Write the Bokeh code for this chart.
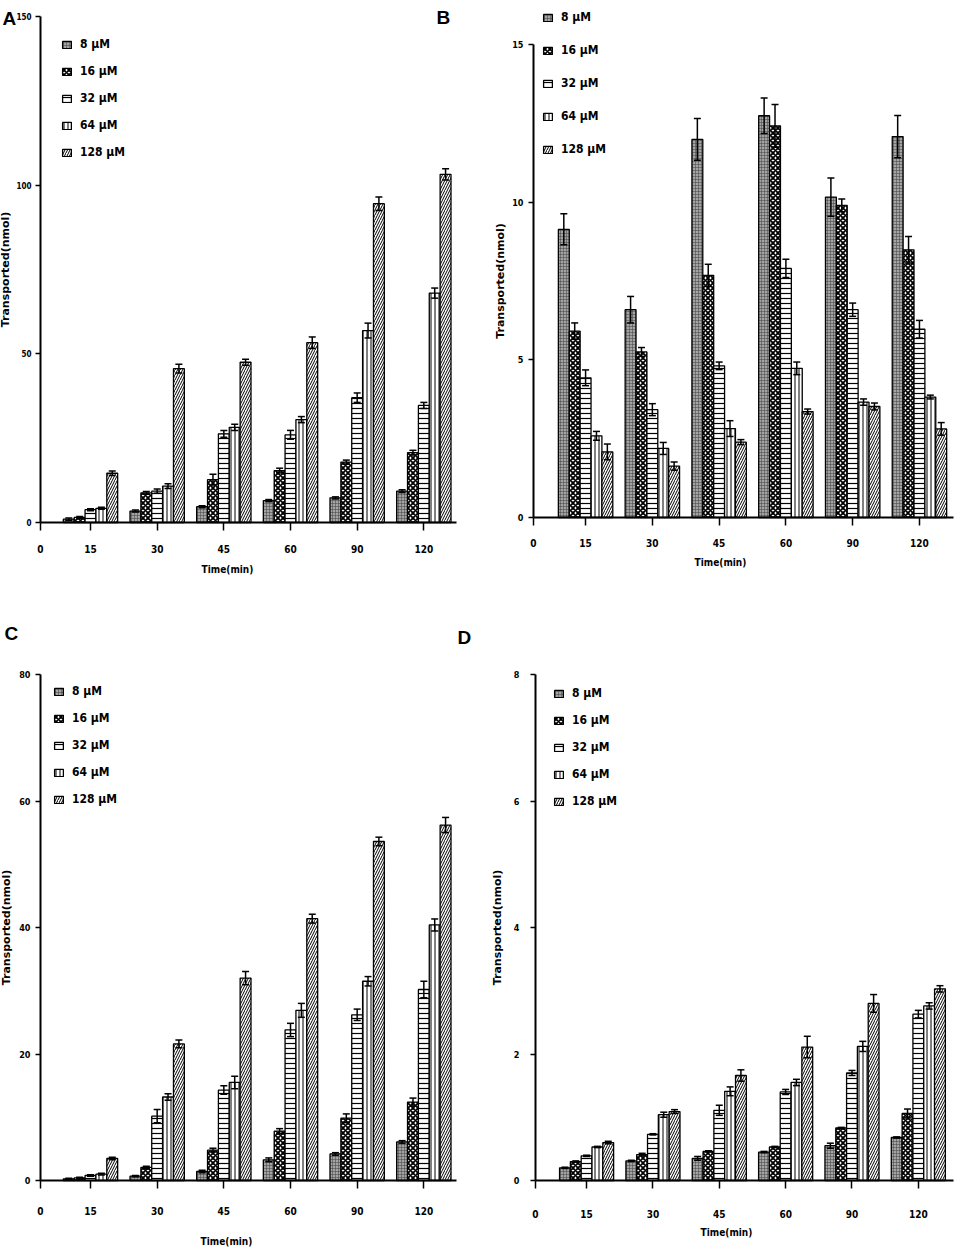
import numpy as np
from bokeh.plotting import figure
from bokeh.models import ColumnDataSource, Whisker, TeeHead, FixedTicker, Label
from bokeh.layouts import column, row
from bokeh.embed import file_html
from bokeh.resources import INLINE

# ---------------- data ----------------
times = ["15", "30", "45", "60", "90", "120"]
concentrations = ["8 \u00b5M", "16 \u00b5M", "32 \u00b5M", "64 \u00b5M", "128 \u00b5M"]

# Panel A
A_8 = [1.0, 3.4, 4.7, 6.5, 7.3, 9.3]
A_16 = [1.5, 8.8, 12.7, 15.4, 17.9, 20.7]
A_32 = [3.8, 9.3, 26.3, 26.0, 37.0, 34.7]
A_64 = [4.2, 10.8, 28.2, 30.5, 56.9, 68.0]
A_128 = [14.6, 45.6, 47.5, 53.3, 94.5, 103.2]
A_8_err = [0.3, 0.3, 0.3, 0.3, 0.3, 0.4]
A_16_err = [0.3, 0.4, 1.6, 0.7, 0.6, 0.7]
A_32_err = [0.3, 0.6, 1.0, 1.3, 1.4, 0.9]
A_64_err = [0.3, 0.7, 0.9, 0.9, 2.2, 1.5]
A_128_err = [0.7, 1.3, 0.9, 1.7, 2.0, 1.7]

# Panel B
B_8 = [9.14, 6.59, 11.99, 12.74, 10.16, 12.08]
B_16 = [5.91, 5.25, 7.68, 12.42, 9.90, 8.49]
B_32 = [4.43, 3.42, 4.81, 7.90, 6.59, 5.97]
B_64 = [2.59, 2.19, 2.82, 4.73, 3.66, 3.82]
B_128 = [2.08, 1.63, 2.39, 3.36, 3.52, 2.81]
B_8_err = [0.49, 0.42, 0.66, 0.56, 0.61, 0.67]
B_16_err = [0.26, 0.14, 0.35, 0.68, 0.20, 0.42]
B_32_err = [0.25, 0.19, 0.12, 0.29, 0.21, 0.28]
B_64_err = [0.14, 0.19, 0.25, 0.20, 0.10, 0.06]
B_128_err = [0.25, 0.13, 0.08, 0.08, 0.11, 0.20]

# Panel C
C_8 = [0.26, 0.69, 1.42, 3.27, 4.2, 6.1]
C_16 = [0.4, 2.06, 4.8, 7.8, 9.85, 12.4]
C_32 = [0.79, 10.17, 14.3, 23.8, 26.2, 30.2]
C_64 = [1.0, 13.2, 15.5, 26.9, 31.5, 40.4]
C_128 = [3.48, 21.6, 32.0, 41.4, 53.6, 56.2]
C_8_err = [0.1, 0.1, 0.2, 0.3, 0.2, 0.2]
C_16_err = [0.1, 0.2, 0.3, 0.4, 0.68, 0.63]
C_32_err = [0.1, 1.05, 0.68, 1.05, 0.9, 1.3]
C_64_err = [0.15, 0.5, 1.0, 1.1, 0.74, 0.95]
C_128_err = [0.2, 0.63, 1.05, 0.7, 0.68, 1.2]

# Panel D
D_8 = [0.2, 0.31, 0.35, 0.45, 0.55, 0.68]
D_16 = [0.3, 0.41, 0.46, 0.53, 0.83, 1.06]
D_32 = [0.39, 0.73, 1.11, 1.4, 1.7, 2.63]
D_64 = [0.53, 1.04, 1.41, 1.55, 2.12, 2.76]
D_128 = [0.6, 1.09, 1.66, 2.11, 2.8, 3.03]
D_8_err = [0.01, 0.01, 0.03, 0.01, 0.04, 0.01]
D_16_err = [0.01, 0.02, 0.01, 0.01, 0.01, 0.07]
D_32_err = [0.01, 0.01, 0.08, 0.04, 0.04, 0.06]
D_64_err = [0.01, 0.04, 0.07, 0.05, 0.08, 0.05]
D_128_err = [0.02, 0.03, 0.09, 0.17, 0.14, 0.05]

A_ticks = [0, 50, 100, 150]
B_ticks = [0, 5, 10, 15]
C_ticks = [0, 20, 40, 60, 80]
D_ticks = [0, 2, 4, 6, 8]

# ---------------- style ----------------
NARROW = "'DejaVu Sans Condensed', 'DejaVu Sans', sans-serif"
WIDE = "DejaVu Sans"
BAR_W = 0.163

bar_styles = [
    dict(fill_color="#a4a4a4", hatch_pattern="cross", hatch_color="#404040", hatch_scale=3, hatch_weight=0.5),
    dict(fill_color="white", hatch_pattern="diagonal_cross", hatch_color="black", hatch_scale=5, hatch_weight=1.8),
    dict(fill_color="white", hatch_pattern="horizontal_line", hatch_color="black", hatch_scale=5, hatch_weight=1.2),
    dict(fill_color="white", hatch_pattern="vertical_line", hatch_color="black", hatch_scale=4, hatch_weight=1.0),
    dict(fill_color="white", hatch_pattern="right_diagonal_line", hatch_color="black", hatch_scale=5, hatch_weight=1.0),
]


def make_panel(means, errs, yticks, cfg):
    W, H = cfg["w"], cfg["h"]
    L, R, T, B = cfg["L"], cfg["R"], cfg["T"], cfg["B"]
    x0, x1 = cfg["x0"], cfg["x1"]
    ymax = yticks[-1]
    # the plotting frame covers the whole canvas; axes are pinned inside it
    ppx = (R - L) / (x1 - x0)
    ppy = (B - T) / ymax
    xr = (x0 - L / ppx, x0 + (W - L) / ppx)
    yr = (-(H - B) / ppy, ymax + T / ppy)

    p = figure(width=W, height=H, x_range=xr, y_range=yr,
               output_backend="svg", toolbar_location=None, tools="",
               min_border=0, min_border_left=0, min_border_right=0,
               min_border_top=0, min_border_bottom=0)
    p.outline_line_color = None
    p.grid.visible = False
    p.background_fill_color = "white"
    p.border_fill_color = "white"

    pos = np.arange(1, len(times) + 1, dtype=float)
    for k, conc in enumerate(concentrations):
        m = np.array(means[k], dtype=float)
        e = np.array(errs[k], dtype=float)
        src = ColumnDataSource(dict(x=pos + (k - 2) * BAR_W, top=m, lower=m - e, upper=m + e))
        p.vbar(x="x", top="top", bottom=0, width=BAR_W, source=src,
               line_color="black", line_width=1.3, legend_label=conc, **bar_styles[k])
        p.add_layout(Whisker(source=src, base="x", lower="lower", upper="upper",
                             line_color="black", line_width=1.5, level="annotation",
                             upper_head=TeeHead(size=7, line_width=1.5, line_color="black"),
                             lower_head=TeeHead(size=7, line_width=1.5, line_color="black")))

    # x axis
    xa = p.xaxis[0]
    xa.fixed_location = 0
    xa.bounds = (x0, x1)
    xa.ticker = FixedTicker(ticks=[x0] + list(pos))
    overrides = {x0: "0"}
    for i, t in enumerate(times):
        overrides[float(pos[i])] = t
    xa.major_label_overrides = overrides
    xa.axis_line_width = 2
    xa.axis_line_color = "black"
    xa.major_tick_line_width = 1.5
    xa.major_tick_in = 0
    xa.major_tick_out = 8
    xa.minor_tick_line_color = None
    xa.major_label_standoff = cfg["xls"]
    xa.major_label_text_font = NARROW
    xa.major_label_text_font_style = "bold"
    xa.major_label_text_font_size = "10px"
    xa.major_label_text_color = "black"

    # y axis
    ya = p.yaxis[0]
    ya.fixed_location = x0
    ya.bounds = (0, ymax)
    ya.ticker = FixedTicker(ticks=yticks)
    ya.axis_line_width = 2
    ya.axis_line_color = "black"
    ya.major_tick_line_width = 1.5
    ya.major_tick_in = 0
    ya.major_tick_out = 5
    ya.minor_tick_line_color = None
    ya.major_label_standoff = cfg["yls"]
    ya.major_label_text_font = NARROW
    ya.major_label_text_font_style = "bold"
    ya.major_label_text_font_size = cfg["yfs"]
    ya.major_label_text_color = "black"
    ya.axis_label = "Transported(nmol)"
    ya.axis_label_standoff = cfg["yas"]
    ya.axis_label_text_font = WIDE
    ya.axis_label_text_font_style = "bold"
    ya.axis_label_text_font_size = "11px"
    ya.axis_label_text_color = "black"

    # x-axis title
    p.add_layout(Label(x=cfg["tx"], y=cfg["ty"], x_units="screen", y_units="screen",
                       text="Time(min)", text_font=NARROW, text_font_style="bold",
                       text_font_size="10px", text_align="center", text_baseline="middle",
                       text_color="black"))

    # legend
    lg = p.legend[0]
    lg.location = cfg["loc"]
    lg.padding = 0
    lg.margin = 0
    lg.border_line_color = None
    lg.background_fill_alpha = 0
    lg.glyph_width = 11
    lg.glyph_height = 9
    lg.label_height = 18
    lg.spacing = cfg["sp"]
    lg.label_standoff = 8
    lg.label_text_font = NARROW
    lg.label_text_font_style = "bold"
    lg.label_text_font_size = "12px"
    lg.label_text_color = "black"
    return p


def panel_letter(p, text, x, y):
    p.add_layout(Label(x=x, y=y, x_units="screen", y_units="screen", text=text,
                       text_font="Liberation Sans", text_font_style="bold",
                       text_font_size="19px", text_align="left", text_baseline="alphabetic",
                       text_color="black"))


cfgA = dict(w=480, h=605, L=40, R=456, T=16, B=522, x0=0.25, x1=6.49,
            xls=14, yls=4, yfs="8px", yas=1, tx=227, ty=36, loc=(61, 444), sp=9)
cfgB = dict(w=475, h=605, L=53, R=473, T=44, B=517, x0=0.22, x1=6.51,
            xls=13, yls=5, yfs="9px", yas=2, tx=240, ty=43, loc=(62, 447), sp=15)
cfgC = dict(w=480, h=644, L=40, R=456, T=69, B=575, x0=0.25, x1=6.49,
            xls=18, yls=5, yfs="9px", yas=3, tx=226, ty=8, loc=(53, 441), sp=9)
cfgD = dict(w=475, h=644, L=55, R=473, T=69, B=575, x0=0.23, x1=6.53,
            xls=21, yls=11, yfs="9px", yas=7, tx=246, ty=17, loc=(73, 439), sp=9)

pA = make_panel([A_8, A_16, A_32, A_64, A_128],
                [A_8_err, A_16_err, A_32_err, A_64_err, A_128_err], A_ticks, cfgA)
pB = make_panel([B_8, B_16, B_32, B_64, B_128],
                [B_8_err, B_16_err, B_32_err, B_64_err, B_128_err], B_ticks, cfgB)
pC = make_panel([C_8, C_16, C_32, C_64, C_128],
                [C_8_err, C_16_err, C_32_err, C_64_err, C_128_err], C_ticks, cfgC)
pD = make_panel([D_8, D_16, D_32, D_64, D_128],
                [D_8_err, D_16_err, D_32_err, D_64_err, D_128_err], D_ticks, cfgD)

panel_letter(pA, "A", 2, 587)
panel_letter(pA, "B", 436, 588)
panel_letter(pC, "C", 4, 616)
panel_letter(pC, "D", 457, 612)

layout = column(row(pA, pB), row(pC, pD))

open("out.html", "w").write(file_html(layout, INLINE))
